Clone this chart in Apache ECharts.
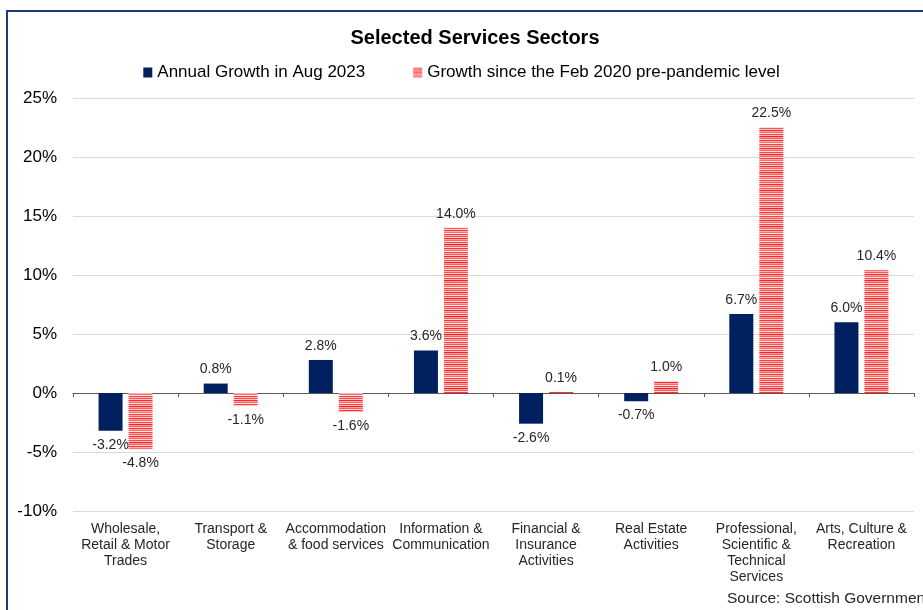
<!DOCTYPE html>
<html>
<head>
<meta charset="utf-8">
<script src="https://cdn.jsdelivr.net/npm/echarts@6/dist/echarts.min.js"></script>
<style>
  html, body { margin: 0; padding: 0; background: #fff; }
  #chart { width: 923px; height: 610px; }
</style>
</head>
<body>
<div id="chart"></div>
<script>
// Sectors shown along the x axis
const sectors = [
  'Wholesale,\nRetail & Motor\nTrades',
  'Transport &\nStorage',
  'Accommodation\n& food services',
  'Information &\nCommunication',
  'Financial &\nInsurance\nActivities',
  'Real Estate\nActivities',
  'Professional,\nScientific &\nTechnical\nServices',
  'Arts, Culture &\nRecreation'
];

// Growth figures, per cent
const annualGrowthAug2023 = [-3.2, 0.8, 2.8, 3.6, -2.6, -0.7, 6.7, 6.0];
const growthSinceFeb2020 = [-4.8, -1.1, -1.6, 14.0, 0.1, 1.0, 22.5, 10.4];

const seriesNames = ['Annual Growth in Aug 2023', 'Growth since the Feb 2020 pre-pandemic level'];

// Y axis range
const yMin = -10, yMax = 25, yStep = 5;

const FONT = '"Liberation Sans", Arial, sans-serif';
const NAVY = '#002060';

// Horizontal striped fill for the second series
function stripePattern() {
  const rows = ['#ff3c3c', '#ffb8b8', '#ff5050', '#ffd0d0', '#ff2828', '#ffa8a8',
                '#ff6464', '#ffe0e0', '#ff4444', '#ffc0c0', '#ff1e1e', '#ff9c9c',
                '#ff5a5a', '#ffd8d8', '#ff3232', '#ffb0b0', '#ff6e6e', '#ffe8e8'];
  const c = document.createElement('canvas');
  c.width = 4; c.height = rows.length;
  const ctx = c.getContext('2d');
  rows.forEach((col, i) => { ctx.fillStyle = col; ctx.fillRect(0, i, 4, 1); });
  return { image: c, repeat: 'repeat' };
}
const stripes = stripePattern();

const chart = echarts.init(document.getElementById('chart'), null, { renderer: 'canvas' });

const labelStyle = {
  show: true,
  fontFamily: FONT,
  fontSize: 14,
  color: '#262626',
  formatter: p => p.value.toFixed(1) + '%',
  distance: 7
};

function withLabelSide(values) {
  return values.map(v => ({
    value: v,
    label: { position: v < 0 ? 'bottom' : 'top' }
  }));
}

chart.setOption({
  animation: false,
  backgroundColor: '#ffffff',
  title: {
    text: 'Selected Services Sectors',
    left: 470, top: 23, textAlign: 'center',
    textStyle: { fontFamily: FONT, fontSize: 20, fontWeight: 'bold', color: '#000' }
  },
  legend: {
    top: 59, left: 'center',
    itemGap: 48, itemWidth: 9, itemHeight: 10,
    icon: 'rect',
    textStyle: { fontFamily: FONT, fontSize: 17, color: '#000' },
    data: seriesNames
  },
  grid: { left: 73, right: 9, top: 98, bottom: 99, containLabel: false },
  xAxis: [
    {
      type: 'category',
      data: sectors,
      position: 'bottom',
      axisLine: { show: false, onZero: false },
      axisTick: { show: false },
      axisLabel: {
        interval: 0, margin: 10,
        fontFamily: FONT, fontSize: 14, lineHeight: 16, color: '#262626'
      }
    },
    {
      type: 'category',
      data: sectors,
      position: 'bottom',
      axisLine: { show: true, onZero: true, lineStyle: { color: '#595959', width: 1 } },
      axisTick: { show: true, interval: 0, length: 4, inside: false, lineStyle: { color: '#595959' } },
      axisLabel: { show: false, interval: 0 }
    }
  ],
  yAxis: {
    type: 'value',
    min: yMin, max: yMax, interval: yStep,
    axisLine: { show: false },
    axisTick: { show: false },
    axisLabel: {
      formatter: '{value}%', margin: 16,
      fontFamily: FONT, fontSize: 17, color: '#000'
    },
    splitLine: { lineStyle: { color: '#d9d9d9', width: 1 } }
  },
  series: [
    {
      name: seriesNames[0],
      type: 'bar',
      xAxisIndex: 0,
      barWidth: 24,
      barGap: '25%',
      itemStyle: { color: NAVY },
      label: labelStyle,
      data: withLabelSide(annualGrowthAug2023)
    },
    {
      name: seriesNames[1],
      type: 'bar',
      xAxisIndex: 0,
      barWidth: 24,
      barGap: '25%',
      itemStyle: { color: stripes },
      label: labelStyle,
      data: withLabelSide(growthSinceFeb2020)
    }
  ],
  graphic: [
    {
      type: 'polyline',
      shape: { points: [[7, 610], [7, 11], [923, 11]] },
      style: { stroke: '#1f3a78', lineWidth: 2, fill: null },
      silent: true
    },
    {
      type: 'text',
      left: 727, top: 591,
      style: {
        text: 'Source: Scottish Government',
        fontFamily: FONT, fontSize: 15.5, fill: '#262626'
      }
    }
  ]
});
</script>
</body>
</html>
